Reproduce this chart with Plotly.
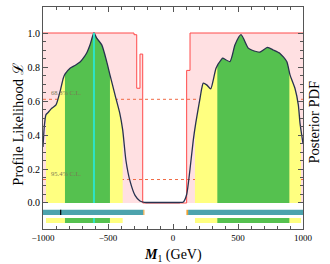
import numpy as np
import plotly.graph_objects as go

# ---------------- data ----------------
curve_x = [-1000, -990, -977, -959, -933, -900, -869, -844, -831, -792, -754, -715,
           -690, -664, -638, -608, -587, -548, -510, -485, -446, -410, -387, -362,
           -331, -292, -254, -220, -150, 0, 50, 80, 105, 131, 156, 175, 195, 208,
           220, 233, 259, 290, 310, 331, 374, 382, 438, 477, 523, 579, 605, 669,
           726, 772, 823, 875, 900, 938, 964, 977, 990, 1000]
curve_y = [0.33, 0.45, 0.52, 0.534, 0.557, 0.577, 0.655, 0.734, 0.758, 0.793, 0.809, 0.829,
           0.852, 0.882, 0.931, 1.0, 0.97, 0.93, 0.832, 0.754, 0.636, 0.53, 0.43, 0.25,
           0.13, 0.045, 0.012, 0.004, 0.003, 0.003, 0.003, 0.006, 0.05, 0.2, 0.37, 0.47, 0.56, 0.616,
           0.67, 0.705, 0.695, 0.671, 0.724, 0.793, 0.846, 0.852, 0.832, 0.931, 0.99, 0.911, 0.90, 0.888,
           0.915, 0.90, 0.88, 0.832, 0.754, 0.675, 0.577, 0.47, 0.40, 0.35]

step_x = [-1000, -300, -279, -254, -233, 105, 131, 1000]
step_y = [1.0, 0.99, 0.675, 0.876, 0.0, 0.78, 1.0, 1.0]

ci68 = [(-831, -485), (341, 895)]
ci95 = [(-977, -387), (169, 985)]
best_fit = -608
teal_bars = [(-1000, -228), (116, 1000)]
orange_bits = [(-228, -220), (103, 116)]
black_tick = -864

cl_levels = [0.61, 0.138]
cl_labels = ["68.3% C.L.", "95.4% C.L."]

x_ticks = [-1000, -500, 0, 500, 1000]
y_ticks = [0.0, 0.2, 0.4, 0.6, 0.8, 1.0]

# ---------------- style ----------------
PINK = "#FFE0E2"
RED = "#FF4A4A"
YELLOW = "#FFFF80"
GREEN = "#55C14F"
TEAL = "#4CA3AD"
CYAN = "#2FE3C6"
NAVY = "#28324F"
ORANGE_DASH = "#F06A45"
SERIF = "Liberation Serif"
SMOOTH = 0.6

TEAL_Y = (-0.040, -0.071)
BAR_Y = (-0.089, -0.118)

cx = np.array(curve_x, float)
cy = np.array(curve_y, float)

fig = go.Figure()

def rect(x0, x1, y0, y1, color):
    fig.add_trace(go.Scatter(x=[x0, x1, x1, x0, x0], y=[y0, y0, y1, y1, y0],
                             mode="lines", fill="toself", fillcolor=color,
                             line=dict(width=0), hoverinfo="skip", showlegend=False))

# pink step region
fig.add_trace(go.Scatter(x=step_x, y=step_y, mode="lines", line_shape="hv",
                         fill="tozeroy", fillcolor=PINK,
                         line=dict(color=RED, width=1), showlegend=False))

# dashed confidence levels
for lev in cl_levels:
    fig.add_trace(go.Scatter(x=[-1000, 1000], y=[lev, lev], mode="lines",
                             line=dict(color=ORANGE_DASH, width=1, dash="dot"),
                             showlegend=False))

# interval fills under curve
def fill_interval(a, b, color):
    m = (cx > a) & (cx < b)
    xs = np.concatenate([[a], cx[m], [b]])
    ys = np.concatenate([[np.interp(a, cx, cy)], cy[m], [np.interp(b, cx, cy)]])
    fig.add_trace(go.Scatter(x=xs, y=ys, mode="lines", fill="tozeroy", fillcolor=color,
                             line=dict(width=0, shape="spline", smoothing=SMOOTH),
                             showlegend=False))

for a, b in ci95:
    fill_interval(a, b, YELLOW)
for a, b in ci68:
    fill_interval(a, b, GREEN)

# profile curve
fig.add_trace(go.Scatter(x=curve_x, y=curve_y, mode="lines",
                         line=dict(color=NAVY, width=1.3, shape="spline", smoothing=SMOOTH),
                         showlegend=False))

# best-fit line
fig.add_trace(go.Scatter(x=[best_fit, best_fit], y=[0, 1.0], mode="lines",
                         line=dict(color=CYAN, width=2), showlegend=False))

# bars below zero
for a, b in teal_bars:
    rect(a, b, TEAL_Y[0], TEAL_Y[1], TEAL)
for a, b in orange_bits:
    rect(a, b, TEAL_Y[0], TEAL_Y[1], "#F0A030")
fig.add_trace(go.Scatter(x=[black_tick, black_tick], y=list(TEAL_Y), mode="lines",
                         line=dict(color="black", width=1.2), showlegend=False))
for a, b in ci95:
    rect(a, b, BAR_Y[0], BAR_Y[1], YELLOW)
for a, b in ci68:
    rect(a, b, BAR_Y[0], BAR_Y[1], GREEN)
fig.add_trace(go.Scatter(x=[best_fit, best_fit], y=list(BAR_Y), mode="lines",
                         line=dict(color=CYAN, width=2), showlegend=False))

# CL labels
for lev, lab in zip(cl_levels, cl_labels):
    fig.add_annotation(x=-955, y=lev, text=lab, showarrow=False, xanchor="left",
                       yanchor="bottom", yshift=1,
                       font=dict(family=SERIF, size=6.5, color="#7A7A55"))

# titles
fig.add_annotation(xref="paper", yref="paper", x=0, y=0.47, xshift=-25, text="Profile Likelihood ℒ",
                   xanchor="center", yanchor="middle",
                   textangle=-90, showarrow=False, font=dict(family=SERIF, size=14.5, color="black"))
fig.add_annotation(xref="paper", yref="paper", x=1, y=0.48, xshift=11, text="Posterior PDF",
                   xanchor="center", yanchor="middle",
                   textangle=-90, showarrow=False, font=dict(family=SERIF, size=14.5, color="black"))
fig.add_annotation(xref="paper", yref="paper", x=0.5, y=0, yshift=-26,
                   xanchor="center", yanchor="middle",
                   text="<b><i>M</i></b><sub>1</sub> (GeV)",
                   showarrow=False, font=dict(family=SERIF, size=14, color="black"))

axis_common = dict(showline=True, linecolor="#555555", linewidth=1, mirror="ticks",
                   ticks="inside", tickcolor="#555555", showgrid=False, zeroline=False,
                   automargin=False)

fig.update_xaxes(range=[-1000, 1000], tickvals=x_ticks, ticklen=5,
                 tickfont=dict(family=SERIF, size=9, color="black"),
                 minor=dict(ticks="inside", ticklen=3, tickcolor="#555555",
                            tickvals=list(range(-1000, 1001, 100))),
                 **axis_common)
fig.update_yaxes(range=[-0.153, 1.153], tickvals=y_ticks, tickformat=".1f", ticklen=5,
                 tickfont=dict(family=SERIF, size=10, color="black"),
                 minor=dict(ticks="inside", ticklen=3, tickcolor="#555555",
                            tickvals=[round(v * 0.05, 2) for v in range(0, 21)]),
                 **axis_common)

fig.update_layout(width=330, height=264, margin=dict(l=43, r=27, t=7, b=35),
                  plot_bgcolor="white", paper_bgcolor="white", showlegend=False)

fig.write_html("out.html", config={"displayModeBar": False},
               post_script="document.body.style.margin='0';")
